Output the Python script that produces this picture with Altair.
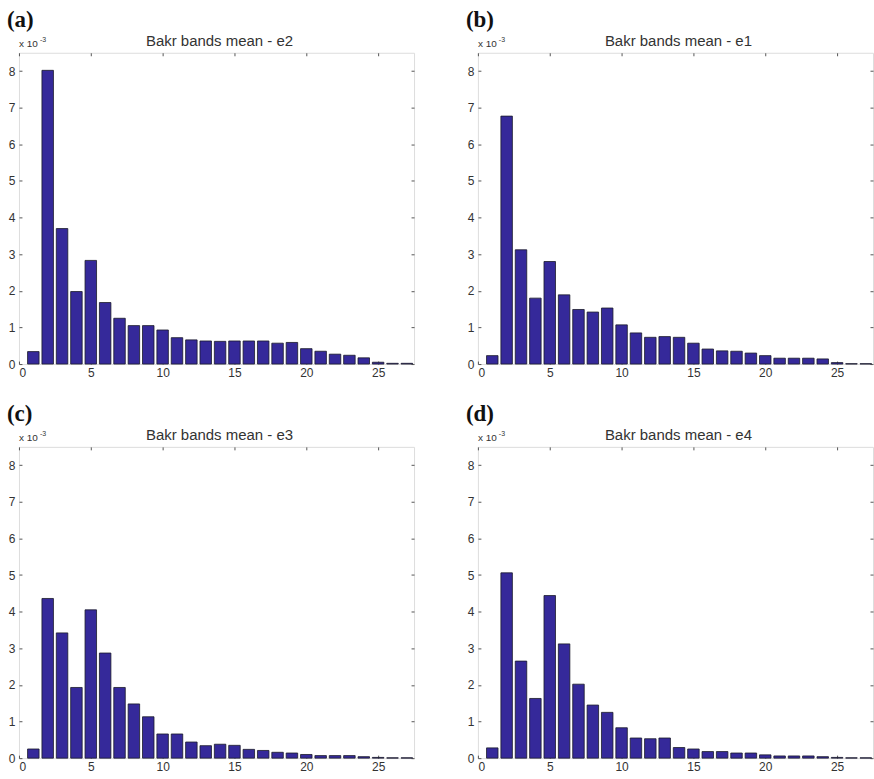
import altair as alt
import pandas as pd

# Band index 1..27
bands = list(range(1, 28))

# Bar heights in units of 1e-3
e2 = [0.34, 8.02, 3.70, 1.98, 2.83, 1.68, 1.25, 1.05, 1.05, 0.93, 0.72, 0.66, 0.63, 0.62,
      0.63, 0.63, 0.63, 0.57, 0.59, 0.42, 0.35, 0.27, 0.24, 0.17, 0.05, 0.02, 0.02]
e1 = [0.23, 6.77, 3.12, 1.80, 2.80, 1.89, 1.49, 1.42, 1.53, 1.07, 0.85, 0.73, 0.75, 0.73,
      0.57, 0.41, 0.36, 0.35, 0.30, 0.23, 0.16, 0.16, 0.16, 0.14, 0.04, 0.01, 0.01]
e3 = [0.25, 4.36, 3.42, 1.93, 4.05, 2.87, 1.93, 1.48, 1.13, 0.66, 0.66, 0.44, 0.34, 0.38,
      0.35, 0.24, 0.21, 0.16, 0.14, 0.10, 0.07, 0.07, 0.07, 0.04, 0.02, 0.01, 0.01]
e4 = [0.28, 5.06, 2.65, 1.63, 4.44, 3.12, 2.02, 1.45, 1.25, 0.83, 0.55, 0.53, 0.55, 0.29,
      0.25, 0.18, 0.18, 0.14, 0.14, 0.09, 0.06, 0.06, 0.06, 0.04, 0.02, 0.01, 0.01]

panels = [("(a)", "Bakr bands mean - e2", e2),
          ("(b)", "Bakr bands mean - e1", e1),
          ("(c)", "Bakr bands mean - e3", e3),
          ("(d)", "Bakr bands mean - e4", e4)]

x_ticks = [0, 5, 10, 15, 20, 25]
y_ticks = [0, 1, 2, 3, 4, 5, 6, 7, 8]

W, H = 396, 312
BAR = "#35299a"
AX = "#555555"
TXT = "#333333"
FONT = "Liberation Sans"

xscale = alt.Scale(domain=[0, 27.5], nice=False, zero=False)
yscale = alt.Scale(domain=[0, 8.5], nice=False)


def axis(orient, values, labels=True, pad=3):
    kw = dict(orient=orient, values=values, grid=False, domain=False, title=None,
              ticks=True, tickSize=3, tickColor=AX, offset=-3,
              labels=labels, labelFont=FONT, labelFontSize=12, labelColor=TXT,
              labelPadding=pad)
    if orient in ("left", "right"):
        kw["labelAlign"] = "right"
    return alt.Axis(**kw)


def panel(letter, title, vals):
    df = pd.DataFrame({"band": bands, "v": vals})
    base = alt.Chart(df).transform_calculate(
        x0="datum.band - 0.4", x1="datum.band + 0.4"
    )
    bars = base.mark_bar(fill=BAR, stroke="#1a1a2a", strokeWidth=0.8).encode(
        x=alt.X("x0:Q", scale=xscale, axis=axis("bottom", x_ticks, pad=3)),
        x2="x1:Q",
        y=alt.Y("v:Q", scale=yscale, axis=axis("left", y_ticks, pad=4)),
        y2=alt.datum(0),
    )
    ghost = base.mark_bar(opacity=0).encode(
        x=alt.X("x0:Q", scale=xscale, axis=axis("top", x_ticks, labels=False)),
        x2="x1:Q",
        y=alt.Y("v:Q", scale=yscale, axis=axis("right", y_ticks, labels=False)),
        y2=alt.datum(0),
    )
    one = alt.Chart(pd.DataFrame({"t": [title]}))
    ttl = one.mark_text(font=FONT, fontSize=15, color=TXT, align="center",
                        baseline="alphabetic").encode(
        text="t:N", x=alt.value(W / 2 + 3), y=alt.value(-7))
    lab = alt.Chart(pd.DataFrame({"t": [letter]})).mark_text(
        font="Liberation Serif", fontWeight="bold", fontSize=23, color="#111111",
        align="left", baseline="alphabetic").encode(
        text="t:N", x=alt.value(-12), y=alt.value(-26))
    mult = alt.Chart(pd.DataFrame({"t": ["x 10"]})).mark_text(
        font=FONT, fontSize=10, color=TXT, align="left", baseline="alphabetic").encode(
        text="t:N", x=alt.value(0), y=alt.value(-6))
    sup = alt.Chart(pd.DataFrame({"t": ["-3"]})).mark_text(
        font=FONT, fontSize=7, color=TXT, align="left", baseline="alphabetic").encode(
        text="t:N", x=alt.value(21), y=alt.value(-11))
    return alt.layer(bars, ghost, ttl, lab, mult, sup).resolve_axis(
        x="independent", y="independent"
    ).properties(width=W, height=H)


charts = [panel(*p) for p in panels]

chart = alt.concat(*charts, columns=2, spacing={"row": 83, "column": 64}, bounds="flush").properties(
    padding={"left": 6, "top": 7, "right": 0, "bottom": 0}
).configure_view(stroke=AX, strokeWidth=1).configure(background="white")

chart.save("out.html", embed_options={"renderer": "svg", "actions": False})
